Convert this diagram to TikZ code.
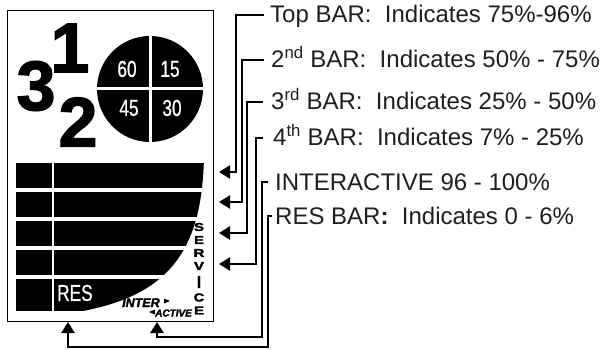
\documentclass[tikz,border=0pt]{standalone}
\usepackage{fontspec}
\usepackage{graphicx}
\setmainfont{Liberation Sans}
\newfontfamily\heavy{Liberation Sans}[BoldFeatures={FakeBold=2},BoldItalicFeatures={FakeBold=2.5}]
\newfontfamily\narrowfont{Liberation Sans}[FakeStretch=0.75,FakeBold=0.8]
\usetikzlibrary{arrows.meta}
\begin{document}
\begin{tikzpicture}[x=1pt,y=-1pt,
  digit/.style={font=\heavy\bfseries\fontsize{70}{70}\selectfont, inner sep=0pt},
  dlbl/.style={text=white, font=\narrowfont\fontsize{23}{23}\selectfont, inner sep=0pt},
  lbl/.style={anchor=base west, inner sep=0pt, font=\fontsize{24}{24}\selectfont, text=black!88},
  arr/.style={line width=2.3pt, -{Triangle[length=11pt,width=13pt]}, line join=miter},
  svc/.style={inner sep=0pt, font=\heavy\bfseries\fontsize{11.5}{11.5}\selectfont},
  logo/.style={anchor=base west, inner sep=0pt, font=\heavy\bfseries\itshape\fontsize{12.5}{12.5}\selectfont}
]
\useasboundingbox (0,0) rectangle (608,350);
\fill[white] (0,0) rectangle (608,350);

% panel box
\node[draw, line width=0.8pt, anchor=north west, minimum width=206pt, minimum height=311pt,
      inner sep=0pt, outer sep=0pt] (box) at (7,10) {};

% big digits
\node[digit] (d1) at (70,48) {1};
\node[digit] (d3) at (36,86) {3};
\node[digit] (d2) at (78,122) {2};

% dial
\node[circle, fill=black, minimum size=106pt, inner sep=0pt] (dial) at (150,89) {};
\draw[white, line width=3pt] (dial.north) -- (dial.south) (dial.west) -- (dial.east);
\node[dlbl] (q60) at (127,69) {60};
\node[dlbl] (q15) at (170,69) {15};
\node[dlbl] (q45) at (129,108) {45};
\node[dlbl] (q30) at (172,108) {30};

% bars
\begin{scope}
\clip (14,150) -- (204,150) .. controls (204,262) and (160,302) .. (58,315) -- (14,315) -- cycle;
\foreach \a/\b in {163/188,192/217,221/246,250/275,279/311} {
  \fill (16,\a) rectangle (52,\b);
  \fill (54,\a) rectangle (212,\b);
}
\end{scope}
\node[dlbl, anchor=west] (res) at (57,293) {RES};

% SERVICE (stacked letters)
\node[svc] (s1) at (199,227) {\scalebox{1.3}[1]{S}};
\node[svc] (s2) at (199,240) {\scalebox{1.3}[1]{E}};
\node[svc] (s3) at (199,253) {\scalebox{1.3}[1]{R}};
\node[svc] (s4) at (199,266) {\scalebox{1.3}[1]{V}};
\node[svc] (s5) at (199,282) {\scalebox{1.3}[1.5]{I}};
\node[svc] (s6) at (199,297.5) {\scalebox{1.3}[1]{C}};
\node[svc] (s7) at (199,310.5) {\scalebox{1.3}[1]{E}};

% INTERACTIVE logo
\node[logo] (inter) at (122,307) {INTER};
\node[logo, font=\heavy\bfseries\itshape\fontsize{10}{10}\selectfont] (active) at (155,316.5) {ACTIVE};
\fill (164,298.5) -- (170,301) -- (164,303.5) -- cycle;
\fill (155,309.5) -- (149,312) -- (155,314.5) -- cycle;

% labels
\node[lbl] (t1) at (270,23) {Top BAR:\ \ Indicates 75\%-96\%};
\node[lbl] (t2) at (271,68) {2\textsuperscript{nd} BAR:\ \ Indicates 50\% - 75\%};
\node[lbl] (t3) at (271,110) {3\textsuperscript{rd} BAR:\ \ Indicates 25\% - 50\%};
\node[lbl] (t4) at (273,146) {4\textsuperscript{th} BAR:\ \ Indicates 7\% - 25\%};
\node[lbl] (t5) at (275,190) {INTERACTIVE 96 - 100\%};
\node[lbl] (t6) at (275,224) {RES BAR\textbf{:}\ \ Indicates 0 - 6\%};

% arrow tips and corners
\coordinate (a1) at (219,172);
\coordinate (a2) at (219,202);
\coordinate (a3) at (219,233);
\coordinate (a4) at (219,264);
\coordinate (k1) at (236,172);
\coordinate (k2) at (242,202);
\coordinate (k3) at (247,233);
\coordinate (k4) at (256,264);
\coordinate (k5) at (262,337);
\coordinate (k6) at (268,347);
\coordinate (u5) at (157,322);
\coordinate (u6) at (68,322);

\draw[arr] ([shift={(-6pt,8pt)}]t1.base west) -| (k1) -- (a1);
\draw[arr] ([shift={(-7pt,8pt)}]t2.base west) -| (k2) -- (a2);
\draw[arr] ([shift={(-8pt,8pt)}]t3.base west) -| (k3) -- (a3);
\draw[arr] ([shift={(-10pt,8pt)}]t4.base west) -| (k4) -- (a4);
\draw[arr] ([shift={(-7pt,8pt)}]t5.base west) -| (k5) -| (u5);
\draw[arr] ([shift={(-3pt,8pt)}]t6.base west) -| (k6) -| (u6);
\end{tikzpicture}
\end{document}
